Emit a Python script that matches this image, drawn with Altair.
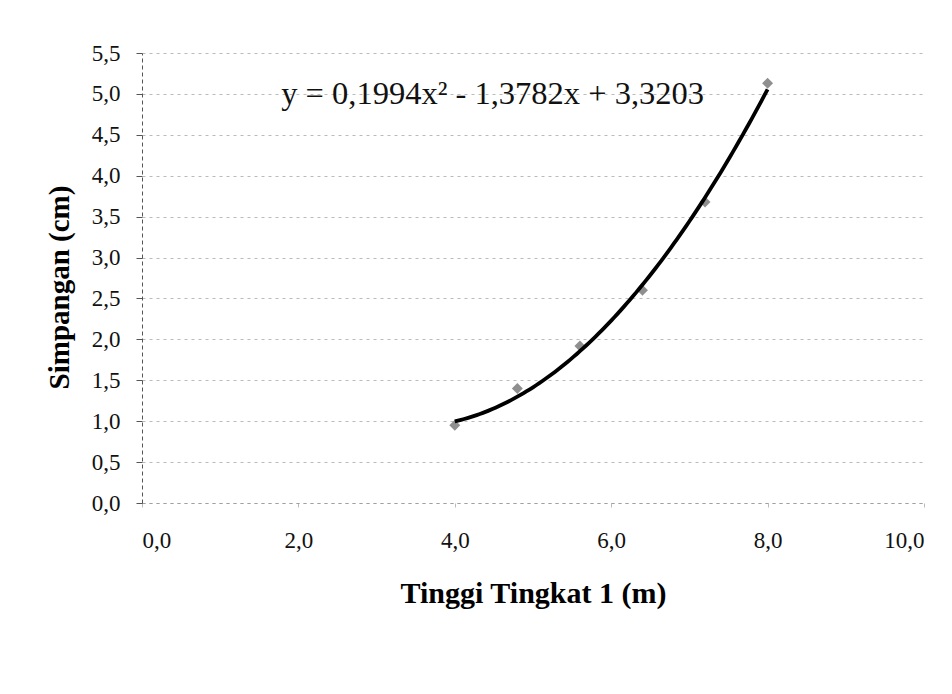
import altair as alt
import pandas as pd

# Measured storey height vs. lateral displacement
tinggi = [4.0, 4.8, 5.6, 6.4, 7.2, 8.0]
simpangan = [0.95, 1.40, 1.92, 2.60, 3.68, 5.13]

# Quadratic trendline coefficients (a*x^2 + b*x + c)
koef_a, koef_b, koef_c = 0.1994, -1.3782, 3.3203
persamaan = "y = 0,1994x² - 1,3782x + 3,3203"
persamaan_pos = [1.78, 5.0]

x_ticks = [0, 2, 4, 6, 8, 10]
y_ticks = [0, 0.5, 1.0, 1.5, 2.0, 2.5, 3.0, 3.5, 4.0, 4.5, 5.0, 5.5]

FONT = "Liberation Serif"
comma_label = "replace(format(datum.value, '.1f'), '.', ',')"

df = pd.DataFrame({"x": tinggi, "y": simpangan})
df_eq = pd.DataFrame({"x": [persamaan_pos[0]], "y": [persamaan_pos[1]], "t": [persamaan]})

x_scale = alt.Scale(domain=[0, 10], nice=False, zero=False)
y_scale = alt.Scale(domain=[0, 5.5], nice=False, zero=False)

x_axis = alt.Axis(
    title="Tinggi Tingkat 1 (m)",
    values=x_ticks,
    labelExpr=comma_label,
    grid=False,
    domainColor="#a0a0a0",
    domainDash=[3, 4],
    tickColor="#bbbbbb",
    tickSize=4,
    labelPadding=22,
    labelFont=FONT,
    labelFontSize=23,
    labelColor="#111111",
    titleFont=FONT,
    titleFontSize=30,
    titleFontWeight="bold",
    titleColor="#000000",
    titleY=99,
    titleBaseline="alphabetic",
)

y_axis = alt.Axis(
    title="Simpangan (cm)",
    values=y_ticks,
    labelExpr=comma_label,
    grid=True,
    gridColor="#bbbbbb",
    gridDash=[3, 4],
    gridWidth=1,
    domainColor="#555555",
    domainDash=[4, 3],
    tickColor="#555555",
    tickSize=6,
    labelPadding=16,
    labelFont=FONT,
    labelFontSize=23,
    labelColor="#111111",
    titleFont=FONT,
    titleFontSize=29,
    titleFontWeight="bold",
    titleColor="#000000",
    titleX=-74,
    titleY=234,
    titleBaseline="alphabetic",
)

points = alt.Chart(df).mark_point(
    shape="diamond", filled=True, color="#8f8f8f", size=120, opacity=1
).encode(
    x=alt.X("x:Q", scale=x_scale, axis=x_axis),
    y=alt.Y("y:Q", scale=y_scale, axis=y_axis),
)

trend = alt.Chart(alt.sequence(4.0, 8.02, 0.04, as_="x")).transform_calculate(
    y=f"{koef_a}*datum.x*datum.x + ({koef_b})*datum.x + {koef_c}"
).mark_line(color="#000000", strokeWidth=3.8).encode(
    x=alt.X("x:Q", scale=x_scale),
    y=alt.Y("y:Q", scale=y_scale),
)

label = alt.Chart(df_eq).mark_text(
    align="left", baseline="middle", font=FONT, fontSize=32.5, color="#111111"
).encode(
    x=alt.X("x:Q", scale=x_scale),
    y=alt.Y("y:Q", scale=y_scale),
    text="t:N",
)

chart = alt.layer(points, trend, label).properties(
    width=782,
    height=450,
    autosize=alt.AutoSizeParams(type="none"),
    padding={"left": 142, "top": 53, "right": 28, "bottom": 191},
    background="white",
).configure_view(stroke=None).configure_axis(
    labelFont=FONT, titleFont=FONT
).configure_text(font=FONT)

chart.save("out.html", embed_options={"renderer": "svg", "actions": False})
